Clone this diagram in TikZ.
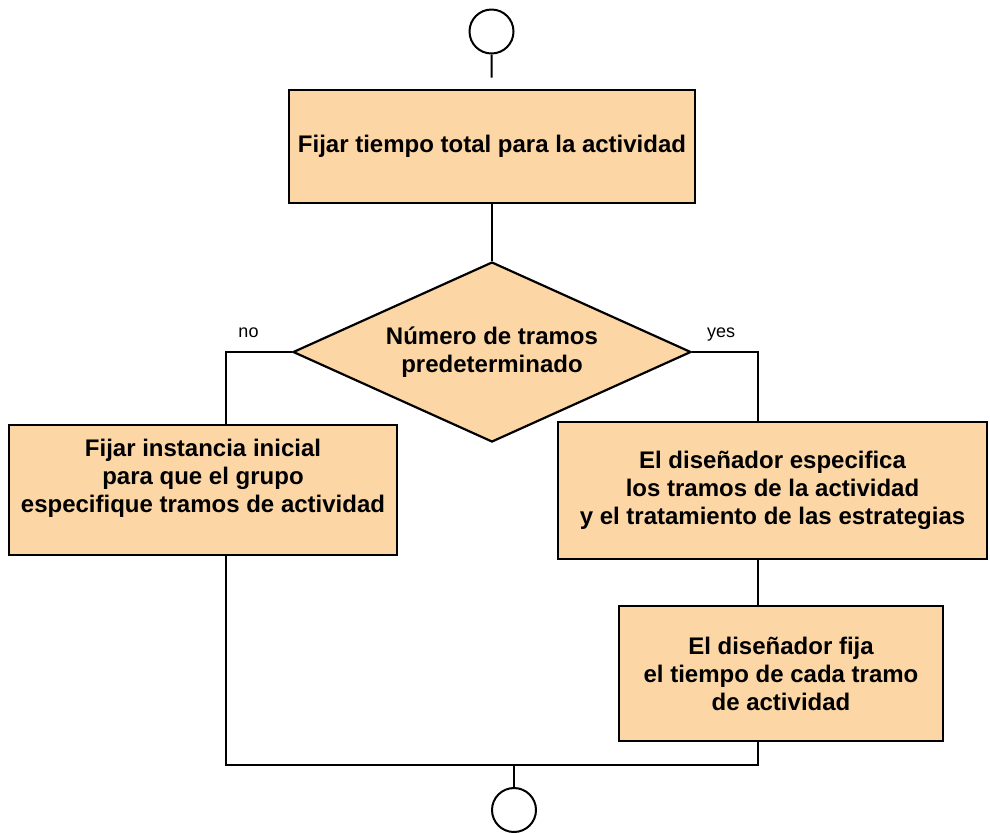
\documentclass[tikz,border=0pt]{standalone}
\usepackage{fontspec}
\setmainfont{Liberation Sans}
\usetikzlibrary{shapes,positioning}
\definecolor{boxfill}{RGB}{252,214,165}

\begin{document}
\begin{tikzpicture}[
    x=0.5pt, y=-0.5pt,
    procblock/.style={
        rectangle,
        draw=black,
        line width=1.3pt,
        fill=boxfill,
        align=center,
        inner sep=0pt,
        font=\fontsize{12}{14}\selectfont\bfseries
    },
    decblock/.style={
        diamond,
        draw=black,
        line width=1.1pt,
        fill=boxfill,
        align=center,
        inner sep=0pt,
        aspect=2.2,
        minimum width=199pt,
        minimum height=90pt,
        font=\fontsize{12}{14}\selectfont\bfseries
    },
    termcircle/.style={
        circle,
        draw=black,
        line width=1pt,
        minimum size=22pt,
        inner sep=0pt
    },
    branchlabel/.style={font=\fontsize{9}{10}\selectfont, anchor=base, inner sep=0pt},
    line/.style={draw=black, line width=1pt}
]
\useasboundingbox (0,0) rectangle (990,832);

% Start and end
\node [termcircle] (start) at (491.5,31.5) {};
\node [termcircle] (end) at (514,810) {};

% Main steps
\node [procblock, minimum width=203pt, minimum height=56.5pt] (total) at (492,146.5)
    {Fijar tiempo total para la actividad};

\node [decblock] (tramos) at (492,352) {Número de tramos\\predeterminado};

\node [procblock, minimum width=194pt, minimum height=65pt] (instance) at (203,490)
    {Fijar instancia inicial\\para que el grupo\\especifique tramos de actividad\\};

\node [procblock, minimum width=214.5pt, minimum height=68.5pt] (specify) at (772.5,490.5)
    {El diseñador especifica\\los tramos de la actividad\\ y el tratamiento de las estrategias};

\node [procblock, minimum width=162pt, minimum height=67.5pt] (settime) at (781,673.5)
    {El diseñador fija\\el tiempo de cada tramo\\de actividad};

% Branch labels
\node [branchlabel] (nolabel) at (248.5,337) {no};
\node [branchlabel] (yeslabel) at (721,337) {yes};

% Bends
\coordinate (nobend) at (226,352);
\coordinate (yesbend) at (758,352);
\coordinate (joint) at (514,765);

% Connections
\draw [line, shorten >=5.5pt] (start) -- (total);
\draw [line] (total) -- (tramos);
\draw [line] (tramos.west) -- (nobend) -- (nobend |- instance.north);
\draw [line] (tramos.east) -- (yesbend) -- (yesbend |- specify.north);
\draw [line] (yesbend |- specify.south) -- (yesbend |- settime.north);
\draw [line] (yesbend |- settime.south) |- (joint);
\draw [line] (nobend |- instance.south) |- (joint);
\draw [line] (joint) -- (end);

\end{tikzpicture}
\end{document}
